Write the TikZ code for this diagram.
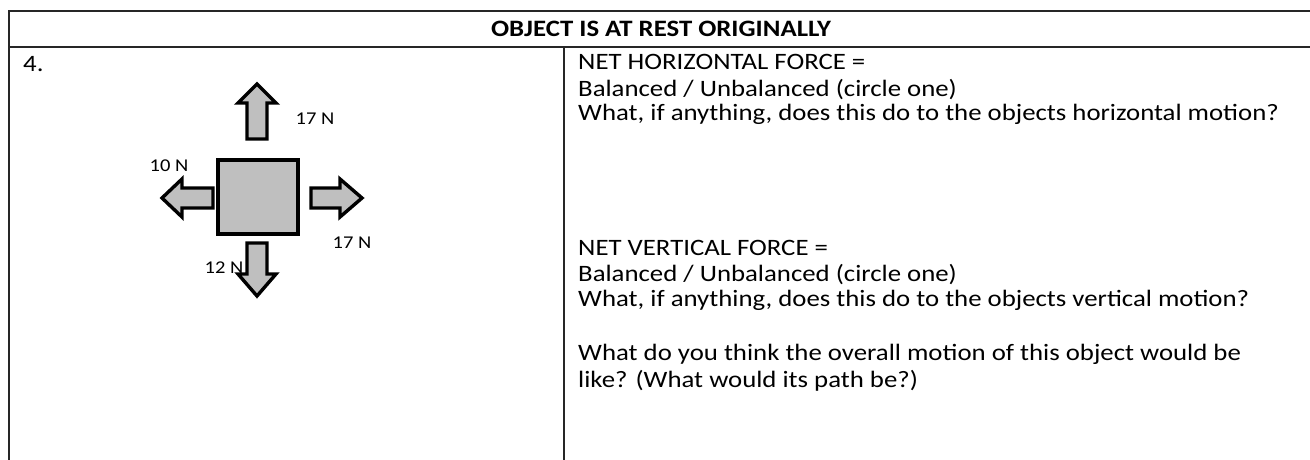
\documentclass[tikz,border=0pt]{standalone}
\usepackage{fontspec}
\setmainfont{Carlito}[FakeStretch=1.14]
\begin{document}
\begin{tikzpicture}[x=1pt,y=-1pt,
  tbl/.style={line width=1.8pt, draw=black!85},
  force/.style={draw=black, line width=3.4pt, fill=black!25, line join=miter},
  body/.style={font=\fontsize{23.5}{26}\selectfont, anchor=base west, inner sep=0pt},
  hdr/.style={font=\fontsize{23.5}{26}\selectfont\bfseries, anchor=base, inner sep=0pt},
  lbl/.style={font=\fontsize{18}{20}\selectfont, inner sep=0pt}]
\useasboundingbox (0,0) rectangle (1310,460);
% table
\draw[tbl] (1310,11) -- (9,11) -- (9,460);
\draw[tbl] (9,47) -- (1310,47);
\draw[tbl] (564,47) -- (564,460);
\node[hdr] (head) at (661,37) {OBJECT IS AT REST ORIGINALLY};
\node[body] (num) at (23,71) {4.};
% labels
\node[lbl] (lup) at (315,119) {17 N};
\node[lbl] (lleft) at (169,166) {10 N};
\node[lbl] (lright) at (352,243) {17 N};
\node[lbl] (ldown) at (224,268) {12 N};
% object and forces
\draw[force] (218,160) rectangle (298,234);
\draw[force] (247,139) -- (247,103) -- (238,103) -- (257,84) -- (276,103) -- (267,103) -- (267,139) -- cycle;
\draw[force] (213,188) -- (182,188) -- (182,179) -- (162,198) -- (182,217) -- (182,208) -- (213,208) -- cycle;
\draw[force] (311,188) -- (340,188) -- (340,179) -- (362,198) -- (340,217) -- (340,208) -- (311,208) -- cycle;
\draw[force] (247,243) -- (247,274) -- (238,274) -- (257,296) -- (276,274) -- (267,274) -- (267,243) -- cycle;
% questions
\node[body] (q1) at (578,70) {NET HORIZONTAL FORCE =};
\node[body] (q2) at (578,96) {Balanced / Unbalanced (circle one)};
\node[body] (q3) at (578,121) {What, if anything, does this do to the objects horizontal motion?};
\node[body] (q4) at (578,255) {NET VERTICAL FORCE =};
\node[body] (q5) at (578,281) {Balanced / Unbalanced (circle one)};
\node[body] (q6) at (578,306) {What, if anything, does this do to the objects vertical motion?};
\node[body] (q7) at (578,360) {What do you think the overall motion of this object would be};
\node[body] (q8) at (578,387) {like? (What would its path be?)};
\end{tikzpicture}
\end{document}
